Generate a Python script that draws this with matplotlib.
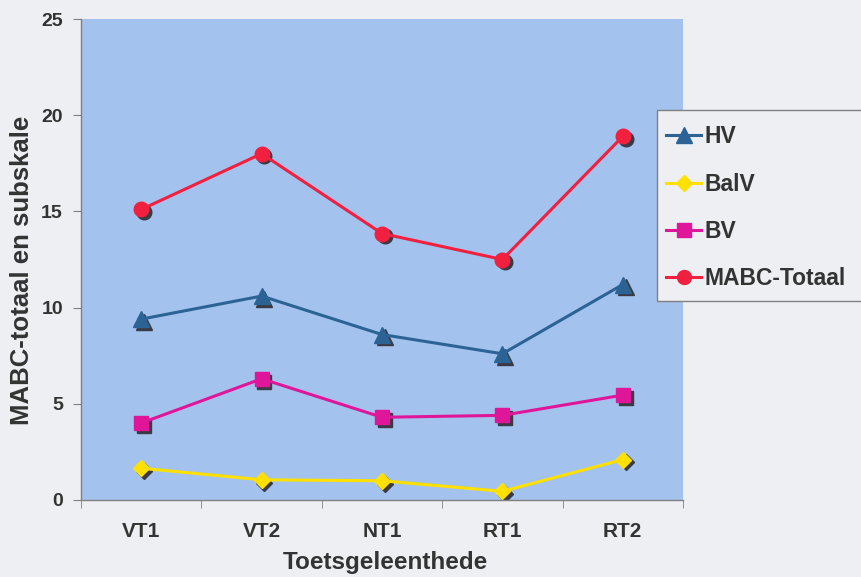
import matplotlib
matplotlib.use("Agg")
import matplotlib.pyplot as plt
import matplotlib.transforms as mtransforms
from matplotlib.patches import Rectangle
from matplotlib.lines import Line2D

categories = ["VT1", "VT2", "NT1", "RT1", "RT2"]
hv = [9.4, 10.6, 8.6, 7.6, 11.2]
balv = [1.65, 1.05, 1.0, 0.45, 2.1]
bv = [4.0, 6.3, 4.3, 4.4, 5.45]
mabc = [15.1, 18.0, 13.85, 12.5, 18.9]

series = [
    ("HV", hv, "#2B6494", "^", 11.5),
    ("BalV", balv, "#FFE000", "D", 8.5),
    ("BV", bv, "#E0169A", "s", 10),
    ("MABC-Totaal", mabc, "#F0203E", "o", 10.5),
]

plt.rcParams['font.family'] = ['Liberation Sans', 'DejaVu Sans']
plt.rcParams['font.weight'] = 'bold'

fig = plt.figure(figsize=(8.62, 5.77), dpi=100)
fig.patch.set_facecolor("#EDEFF3")
ax = fig.add_axes([81/862, 77/577, 602/862, 481/577])
ax.set_facecolor("#A4C2EE")

x = list(range(len(categories)))
shadow = mtransforms.offset_copy(ax.transData, fig=fig, x=2, y=-2, units='points')
for name, vals, col, mk, ms in series:
    ax.plot(x, vals, linestyle='none', marker=mk, markersize=ms, color="#3A3A44",
            transform=shadow, zorder=2)
    ax.plot(x, vals, color=col, lw=2.2, marker=mk, markersize=ms,
            markeredgecolor=col, zorder=3)

ax.set_xlim(-0.5, 4.5)
ax.set_ylim(0, 25)
ax.set_yticks([0, 5, 10, 15, 20, 25])
ax.set_xticks(x)
ax.set_xticklabels(categories)
ax.set_xticks([-0.5, 0.5, 1.5, 2.5, 3.5, 4.5], minor=True)
ax.tick_params(axis='x', which='major', length=0, pad=16, labelsize=15, labelcolor="#333333")
ax.tick_params(axis='x', which='minor', length=6, color="#808080", direction='out')
ax.tick_params(axis='y', length=6, color="#808080", direction='out', pad=7,
               labelsize=14, labelcolor="#333333")
for lab in ax.get_xticklabels() + ax.get_yticklabels():
    lab.set_fontweight('bold')
for s in ['top', 'right']:
    ax.spines[s].set_visible(False)
for s in ['left', 'bottom']:
    ax.spines[s].set_color("#808080")
    ax.spines[s].set_linewidth(1.0)

fig.text(385/862, 1 - 563/577, "Toetsgeleenthede", fontsize=17.5, fontweight='bold',
         color="#333333", ha='center', va='center')
fig.text(22/862, 1 - 270/577, "MABC-totaal en subskale", fontsize=18.5, fontweight='bold',
         color="#333333", ha='center', va='center', rotation=90)

# legend frame (clipped at right edge)
rect = Rectangle((657/862, (577-301)/577), 220/862, 191/577, transform=fig.transFigure,
                 facecolor="#EDEFF3", edgecolor="#808080", lw=1.0, zorder=5)
fig.add_artist(rect)
handles = [Line2D([0], [0], color=col, lw=2.2, marker=mk, markersize=ms - 0.5,
                  markeredgecolor=col) for name, vals, col, mk, ms in series]
leg = fig.legend(handles, [s[0] for s in series], loc='upper left',
                 bbox_to_anchor=(660/862, (577-119)/577), frameon=False,
                 prop={'size': 16.5, 'weight': 'bold'}, labelspacing=1.065,
                 handlelength=1.53, handletextpad=0.15, borderpad=0.27,
                 borderaxespad=0)
leg.set_zorder(6)
for t in leg.get_texts():
    t.set_color("#333333")

fig.savefig("out.png", dpi=100, facecolor=fig.get_facecolor())
